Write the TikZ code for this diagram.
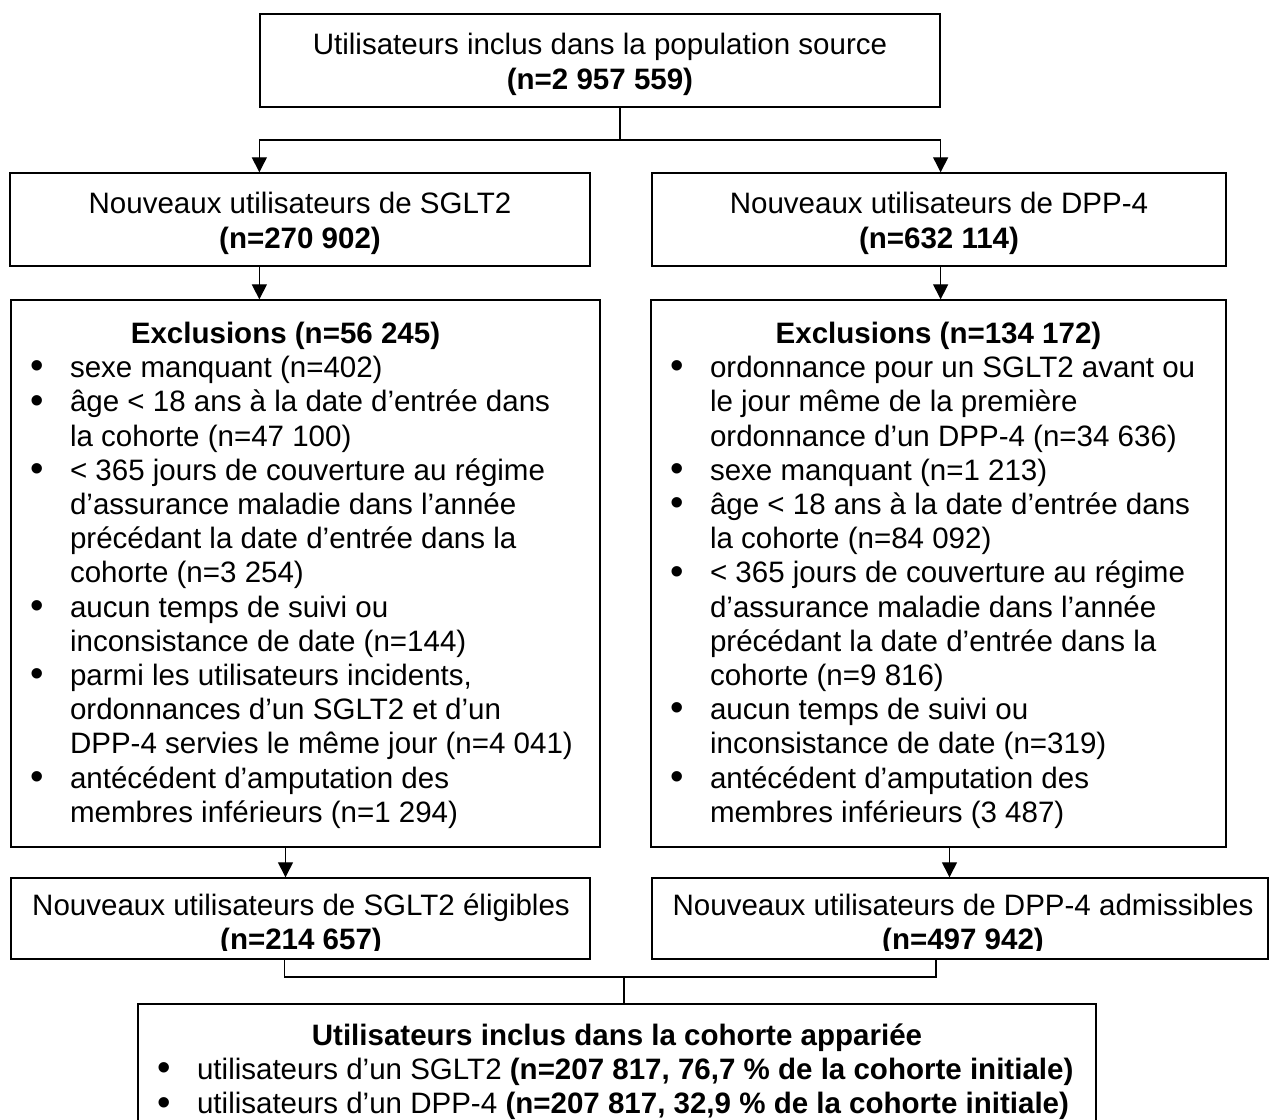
\documentclass[tikz,border=0pt]{standalone}
\usepackage{fontspec}
\setmainfont{Liberation Sans}
\usetikzlibrary{arrows.meta,calc}
\newcommand\itm[1]{\par\hangindent=.8cm\hangafter=1\noindent\makebox[.8cm][l]{\raisebox{-.04em}{\scalebox{1.3}{\textbullet}}}#1}
\newcommand\ttl[2]{{\centering\bfseries\rule{0pt}{#1}#2\par}\leftskip=.38cm\rightskip=0pt plus 1fil}

\begin{document}
\begin{tikzpicture}[x=.02cm,y=-.02cm,line width=.7pt,
  box/.style={draw,line width=.8pt,inner sep=0pt,align=center,font=\fontsize{16.8}{19.46}\selectfont},
  txt/.style={inner sep=0pt,align=center,font=\fontsize{16.8}{19.46}\selectfont},
  arr/.style={-{Triangle[length=.3cm,width=.3cm]}}]
\useasboundingbox(0,0)rectangle(1269,1120);
\node[box,minimum width=13.6cm,minimum height=1.86cm](t)at(600,60.5){\rule{0pt}{.58cm}Utilisateurs inclus dans la population source\\\textbf{(n=2~957~559)}};
\node[box,minimum width=11.6cm,minimum height=1.86cm](s2)at(300,219.5){\rule{0pt}{.58cm}Nouveaux utilisateurs de SGLT2\\\textbf{(n=270~902)}};
\node[box,minimum width=11.48cm,minimum height=1.86cm](d2)at(939,219.5){\rule{0pt}{.58cm}Nouveaux utilisateurs de DPP-4\\\textbf{(n=632~114)}};
\node[box](s3)at(305.5,573.5){\begin{minipage}[c][10.94cm][t]{11.78cm}
\ttl{.87cm}{\hspace*{-.8cm}Exclusions (n=56~245)}
\itm{sexe manquant (n=402)}
\itm{âge < 18 ans à la date d’entrée dans\\la cohorte (n=47~100)}
\itm{< 365 jours de couverture au régime\\d’assurance maladie dans l’année\\précédant la date d’entrée dans la\\cohorte (n=3~254)}
\itm{aucun temps de suivi ou\\inconsistance de date (n=144)}
\itm{parmi les utilisateurs incidents,\\ordonnances d’un SGLT2 et d’un\\DPP-4 servies le même jour (n=4~041)}
\itm{antécédent d’amputation des\\membres inférieurs (n=1~294)}
\end{minipage}};
\node[box](d3)at(938.5,573.5){\begin{minipage}[c][10.94cm][t]{11.5cm}
\ttl{.87cm}{Exclusions (n=134~172)}
\itm{ordonnance pour un SGLT2 avant ou\\le jour même de la première\\ordonnance d’un DPP-4 (n=34~636)}
\itm{sexe manquant (n=1~213)}
\itm{âge < 18 ans à la date d’entrée dans\\la cohorte (n=84~092)}
\itm{< 365 jours de couverture au régime\\d’assurance maladie dans l’année\\précédant la date d’entrée dans la\\cohorte (n=9~816)}
\itm{aucun temps de suivi ou\\inconsistance de date (n=319)}
\itm{antécédent d’amputation des\\membres inférieurs (3~487)}
\end{minipage}};
\node[box,minimum width=11.58cm,minimum height=1.62cm](s4)at(300.5,918.5){};
\node[box,minimum width=12.32cm,minimum height=1.62cm](d4)at(960,918.5){};
\begin{scope}\clip(0,870)rectangle(1269,950.5);
\node[txt](s4t)at(301,914){\rule{0pt}{.864cm}Nouveaux utilisateurs de SGLT2 éligibles\\\textbf{(n=214~657)}};
\node[txt](d4t)at(963,914){\rule{0pt}{.864cm}Nouveaux utilisateurs de DPP-4 admissibles\\\textbf{(n=497~942)}};
\end{scope}
\node[box](f)at(617,1072){\begin{minipage}[c][2.72cm][t]{19.16cm}
\ttl{.83cm}{Utilisateurs inclus dans la cohorte appariée}
\itm{utilisateurs d’un SGLT2 \textbf{(n=207~817, 76,7~\% de la cohorte initiale)}}
\itm{utilisateurs d’un DPP-4 \textbf{(n=207~817, 32,9~\% de la cohorte initiale)}}
\end{minipage}};
\coordinate(j1)at(620,140);\coordinate(j2)at(624,977);
\draw(t.south-|j1)--(j1);\draw[arr](j1)-|(s2.north-|t.west);\draw[arr](j1)-|(d2.north-|t.east);
\draw[arr](s2.south-|t.west)--(s3.north-|t.west);\draw[arr](d2.south-|t.east)--(d3.north-|t.east);
\draw[arr]($(s3.south)+(-20,0)$)coordinate(a1)--(a1|-s4.north);\draw[arr]($(d3.south)+(11,0)$)coordinate(a2)--(a2|-d4.north);
\draw($(s4.south)+(-16,0)$)|-(j2)-|($(d4.south)+(-24,0)$);\draw(j2)--(j2|-f.north);
\end{tikzpicture}
\end{document}
